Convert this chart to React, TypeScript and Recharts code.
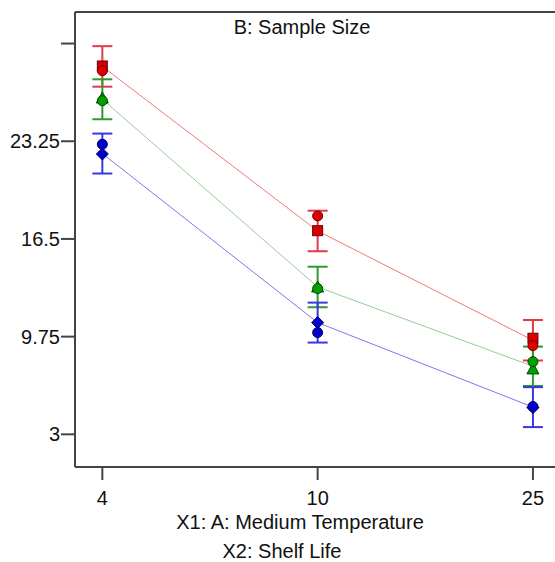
// Interaction plot: response vs medium temperature, grouped by sample size
import { ComposedChart, Line, Scatter, XAxis, YAxis, ErrorBar, ReferenceLine } from 'recharts';

const xLabels = ['4', '10', '25'];

// group means and error half-widths
const redMean = [28.42, 17.05, 9.5];
const redErr = [1.4, 1.4, 1.4];
const greenMean = [26.15, 13.18, 7.7];
const greenErr = [1.38, 1.4, 1.36];
const blueMean = [22.4, 10.72, 4.88];
const blueErr = [1.38, 1.38, 1.38];

// design points
const redCircle = [28.12, 18.09, 9.13];
const redSquare = [28.45, 17.07, 9.64];
const greenCircle = [26.05, 13.07, 8.02];
const greenTriangle = [26.24, 13.18, 7.52];
const blueCircle = [23.04, 10.03, 4.92];
const blueDiamond = [22.37, 10.72, 4.85];

const yTicks = [3, 9.75, 16.5, 23.25, 30];
const Y_MIN = 0.742;
const Y_MAX = 32.18;

const data = xLabels.map((label, i) => ({
  x: i,
  label,
  redMean: redMean[i],
  redErr: redErr[i],
  greenMean: greenMean[i],
  greenErr: greenErr[i],
  blueMean: blueMean[i],
  blueErr: blueErr[i],
  redCircle: redCircle[i],
  redSquare: redSquare[i],
  greenCircle: greenCircle[i],
  greenTriangle: greenTriangle[i],
  blueCircle: blueCircle[i],
  blueDiamond: blueDiamond[i],
}));

const FONT = '"Liberation Sans", Arial, sans-serif';
const AXIS = '#444';

const circleShape = (fill: string, stroke: string) => (p: any) => (
  <circle cx={p.cx} cy={p.cy} r={5} fill={fill} stroke={stroke} strokeWidth={1} />
);
const squareShape = (fill: string, stroke: string) => (p: any) => (
  <rect x={p.cx - 5} y={p.cy - 5} width={10} height={10} fill={fill} stroke={stroke} strokeWidth={1} />
);
const triangleShape = (fill: string, stroke: string) => (p: any) => (
  <polygon
    points={`${p.cx},${p.cy - 6} ${p.cx + 6},${p.cy + 5} ${p.cx - 6},${p.cy + 5}`}
    fill={fill}
    stroke={stroke}
    strokeWidth={1}
  />
);
const diamondShape = (fill: string, stroke: string) => (p: any) => (
  <polygon
    points={`${p.cx},${p.cy - 6} ${p.cx + 6},${p.cy} ${p.cx},${p.cy + 6} ${p.cx - 6},${p.cy}`}
    fill={fill}
    stroke={stroke}
    strokeWidth={1}
  />
);

export default function App() {
  return (
    <div style={{ position: 'absolute', left: 0, top: 0, width: 555, height: 562, overflow: 'hidden', background: '#fff', fontFamily: FONT }}>
      <ComposedChart width={580} height={562} data={data} margin={{ top: 12, right: 4, bottom: 55, left: 0 }}>
        <XAxis
          dataKey="x"
          type="number"
          domain={[-0.127, 2.2]}
          ticks={[0, 1, 2]}
          tickFormatter={(v: number) => xLabels[v]}
          height={40}
          tickSize={13}
          tickMargin={11}
          stroke={AXIS}
          axisLine={{ stroke: AXIS, strokeWidth: 2 }}
          tickLine={{ stroke: AXIS, strokeWidth: 2 }}
          tick={{ fill: '#111', fontSize: 20, fontFamily: FONT }}
          allowDataOverflow
        />
        <YAxis
          type="number"
          domain={[Y_MIN, Y_MAX]}
          ticks={yTicks}
          tickFormatter={(v: number) => (v === 30 ? '' : String(v))}
          width={75}
          tickSize={14}
          tickMargin={1}
          axisLine={{ stroke: AXIS, strokeWidth: 2 }}
          tickLine={{ stroke: AXIS, strokeWidth: 2 }}
          tick={{ fill: '#111', fontSize: 20, fontFamily: FONT }}
          allowDataOverflow
        />
        <ReferenceLine y={Y_MAX} stroke={AXIS} strokeWidth={2} />

        <Line dataKey="redMean" stroke="#f07878" strokeWidth={1} dot={false} isAnimationActive={false}>
          <ErrorBar dataKey="redErr" width={10} stroke="#e23a48" strokeWidth={2} />
        </Line>
        <Line dataKey="greenMean" stroke="#98cc98" strokeWidth={1} dot={false} isAnimationActive={false}>
          <ErrorBar dataKey="greenErr" width={10} stroke="#2f9a2f" strokeWidth={2} />
        </Line>
        <Line dataKey="blueMean" stroke="#7a7af0" strokeWidth={1} dot={false} isAnimationActive={false}>
          <ErrorBar dataKey="blueErr" width={10} stroke="#3838e0" strokeWidth={2} />
        </Line>

        <Scatter dataKey="redSquare" shape={squareShape('#d80000', '#6a0000')} isAnimationActive={false} />
        <Scatter dataKey="redCircle" shape={circleShape('#e00000', '#6a0000')} isAnimationActive={false} />
        <Scatter dataKey="greenTriangle" shape={triangleShape('#00a000', '#004400')} isAnimationActive={false} />
        <Scatter dataKey="greenCircle" shape={circleShape('#00a000', '#004400')} isAnimationActive={false} />
        <Scatter dataKey="blueDiamond" shape={diamondShape('#0000cc', '#000066')} isAnimationActive={false} />
        <Scatter dataKey="blueCircle" shape={circleShape('#0000cc', '#000066')} isAnimationActive={false} />
      </ComposedChart>

      <svg width={555} height={562} style={{ position: 'absolute', left: 0, top: 0, pointerEvents: 'none' }}>
        <text x={302} y={34} textAnchor="middle" fontSize={20} fontFamily={FONT} fill="#111">B: Sample Size</text>
        <text x={300} y={529} textAnchor="middle" fontSize={20} fontFamily={FONT} fill="#111">X1: A: Medium Temperature</text>
        <text x={282} y={558} textAnchor="middle" fontSize={20} fontFamily={FONT} fill="#111">X2: Shelf Life</text>
      </svg>
    </div>
  );
}
